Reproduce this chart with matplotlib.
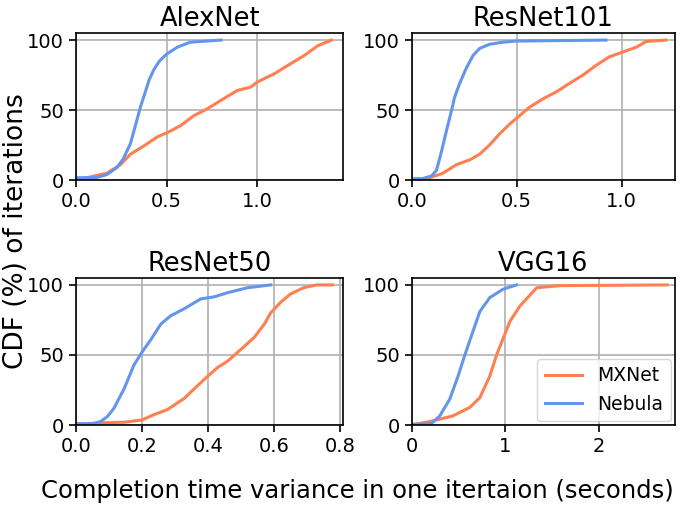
import matplotlib
matplotlib.use('Agg')
import matplotlib.pyplot as plt

# CDF curves: x in seconds, cdf in percent
alexnet_mxnet_x = [0, 0.17, 0.245, 0.30, 0.375, 0.45, 0.505, 0.578, 0.65, 0.725, 0.80,
                   0.89, 0.965, 1.0, 1.095, 1.17, 1.26, 1.335, 1.41]
alexnet_mxnet_cdf = [0, 5, 11, 18.5, 24.5, 31, 34, 39, 46, 51, 57,
                     64, 66.5, 70, 76, 82, 89, 96, 100]
alexnet_nebula_x = [0, 0.116, 0.17, 0.225, 0.26, 0.30, 0.33, 0.355, 0.385, 0.405, 0.43,
                    0.46, 0.50, 0.56, 0.63, 0.80]
alexnet_nebula_cdf = [1.7, 2, 4, 9, 15, 26, 40, 52, 64, 72, 79, 85, 90, 95, 98.5, 100]

resnet101_mxnet_x = [0, 0.086, 0.149, 0.212, 0.276, 0.323, 0.37, 0.418, 0.466, 0.513, 0.56,
                     0.624, 0.688, 0.75, 0.815, 0.878, 0.94, 1.005, 1.07, 1.116, 1.21]
resnet101_mxnet_cdf = [0, 1.7, 5, 11, 14.5, 18.5, 25, 33, 40, 46, 52,
                       58, 63, 69, 75, 82, 88, 91.5, 95, 99, 100]
resnet101_nebula_x = [0, 0.054, 0.094, 0.118, 0.141, 0.165, 0.19, 0.204, 0.228, 0.26,
                      0.292, 0.323, 0.37, 0.434, 0.497, 0.925]
resnet101_nebula_cdf = [1, 1.2, 3, 7, 20, 35, 50, 59, 69, 80, 89, 94, 97, 98.5, 99.3, 100]

resnet50_mxnet_x = [0, 0.055, 0.146, 0.2, 0.237, 0.277, 0.328, 0.368, 0.4, 0.429, 0.46,
                    0.5, 0.54, 0.571, 0.59, 0.62, 0.65, 0.69, 0.73, 0.778]
resnet50_mxnet_cdf = [0, 1.4, 2, 3.6, 7.5, 11, 19, 28, 35, 41, 45.7,
                      54, 62.5, 72, 80, 87.5, 93.5, 98, 100, 100]
resnet50_nebula_x = [0, 0.055, 0.075, 0.095, 0.115, 0.146, 0.176, 0.2, 0.227, 0.257,
                     0.287, 0.328, 0.378, 0.419, 0.46, 0.52, 0.59]
resnet50_nebula_cdf = [1, 1, 2.6, 6, 12, 26, 43, 52, 61, 72, 78, 83, 90, 91.5, 94.5, 98, 100]

vgg16_mxnet_x = [0, 0.193, 0.44, 0.62, 0.728, 0.835, 0.907, 0.978, 1.05, 1.157, 1.336,
                 1.586, 2.73]
vgg16_mxnet_cdf = [0, 2.5, 6.5, 12.5, 19.5, 35, 50, 62, 74, 85, 98, 99.5, 100]
vgg16_nebula_x = [0, 0.21, 0.3, 0.407, 0.496, 0.568, 0.64, 0.728, 0.835, 0.978, 1.12]
vgg16_nebula_cdf = [0.5, 1, 6.5, 18.5, 35, 50, 64, 81, 91, 97, 100]

titles = ['AlexNet', 'ResNet101', 'ResNet50', 'VGG16']
xlims = [1.475, 1.252, 0.81, 2.81]
xticks = [[0, 0.5, 1.0], [0, 0.5, 1.0], [0, 0.2, 0.4, 0.6, 0.8], [0, 1, 2]]
xticklabels = [['0.0', '0.5', '1.0'], ['0.0', '0.5', '1.0'],
               ['0.0', '0.2', '0.4', '0.6', '0.8'], ['0', '1', '2']]
mxnet = [(alexnet_mxnet_x, alexnet_mxnet_cdf), (resnet101_mxnet_x, resnet101_mxnet_cdf),
         (resnet50_mxnet_x, resnet50_mxnet_cdf), (vgg16_mxnet_x, vgg16_mxnet_cdf)]
nebula = [(alexnet_nebula_x, alexnet_nebula_cdf), (resnet101_nebula_x, resnet101_nebula_cdf),
          (resnet50_nebula_x, resnet50_nebula_cdf), (vgg16_nebula_x, vgg16_nebula_cdf)]

MX_COLOR = '#ff7f50'
NB_COLOR = '#6495ed'

fig = plt.figure(figsize=(6.85, 5.09), dpi=100)

# положения осей в долях фигуры
positions = [
    [0.111, 0.646, 0.390, 0.289],
    [0.601, 0.646, 0.384, 0.289],
    [0.111, 0.165, 0.390, 0.289],
    [0.601, 0.165, 0.384, 0.289],
]

for i in range(4):
    ax = fig.add_axes(positions[i])
    ax.plot(mxnet[i][0], mxnet[i][1], color=MX_COLOR, lw=2.2, label='MXNet')
    ax.plot(nebula[i][0], nebula[i][1], color=NB_COLOR, lw=2.2, label='Nebula')
    ax.set_xlim(0, xlims[i])
    ax.set_ylim(0, 105)
    ax.set_xticks(xticks[i])
    ax.set_xticklabels(xticklabels[i])
    ax.set_yticks([0, 50, 100])
    ax.grid(True, color='#b0b0b0', lw=1.2)
    ax.set_axisbelow(True)
    ax.tick_params(labelsize=14, length=5, width=1.2)
    for sp in ax.spines.values():
        sp.set_linewidth(1.2)
    ax.set_title(titles[i], fontsize=18.5, pad=5)
    if i == 3:
        ax.legend(loc='lower right', fontsize=13.5, handlelength=2.0,
                  borderaxespad=0.2)

fig.text(0.521, 0.035, 'Completion time variance in one itertaion (seconds)',
         ha='center', va='center', fontsize=17.5)
fig.text(0.024, 0.545, 'CDF (%) of iterations', ha='center', va='center',
         rotation=90, fontsize=19)

fig.savefig('out.png', dpi=100)
